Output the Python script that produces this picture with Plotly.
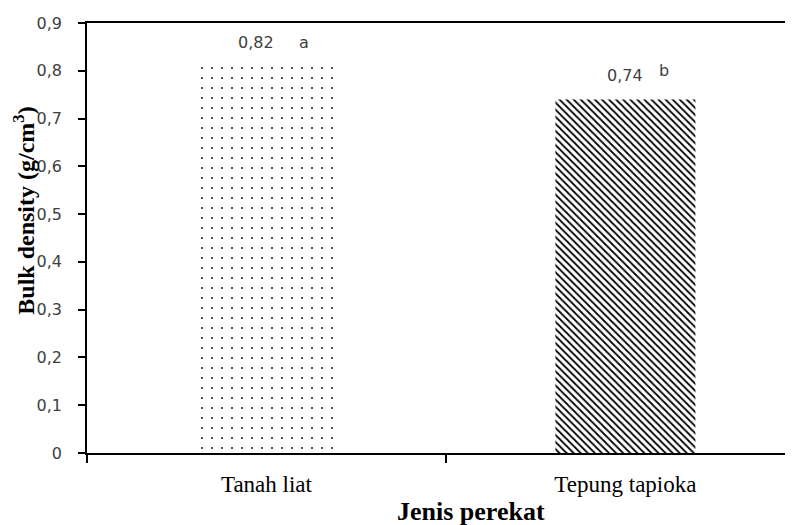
import plotly.graph_objects as go

categories = ["Tanah liat", "Tepung tapioka"]
values = [0.82, 0.74]
value_labels = ["0,82", "0,74"]
letters = ["a", "b"]
y_ticks = [0, 0.1, 0.2, 0.3, 0.4, 0.5, 0.6, 0.7, 0.8, 0.9]
y_tick_text = ["0", "0,1", "0,2", "0,3", "0,4", "0,5", "0,6", "0,7", "0,8", "0,9"]

fig = go.Figure()
fig.add_trace(go.Bar(
    x=[categories[0]], y=[values[0]], width=0.39,
    marker=dict(color="white", line=dict(width=0),
                pattern=dict(shape=".", size=10, solidity=0.025,
                             fgcolor="black", bgcolor="white", fillmode="replace")),
    showlegend=False, hoverinfo="skip"))
fig.add_trace(go.Bar(
    x=[categories[1]], y=[values[1]], width=0.39,
    marker=dict(color="white", line=dict(width=0),
                pattern=dict(shape="\\", size=5, solidity=0.35,
                             fgcolor="black", bgcolor="white", fillmode="replace")),
    showlegend=False, hoverinfo="skip"))

label_font = dict(family="DejaVu Sans", size=16, color="#404040")
# value labels and significance letters
fig.add_annotation(x=categories[0], y=values[0], text=value_labels[0],
                   showarrow=False, yanchor="middle", yshift=19, xshift=-10, font=label_font)
fig.add_annotation(x=categories[0], y=values[0], text=letters[0],
                   showarrow=False, yanchor="middle", yshift=19, xshift=38, font=label_font)
fig.add_annotation(x=categories[1], y=values[1], text=value_labels[1],
                   showarrow=False, yanchor="middle", yshift=24, xshift=0, font=label_font)
fig.add_annotation(x=categories[1], y=values[1], text=letters[1],
                   showarrow=False, yanchor="middle", yshift=29, xshift=39, font=label_font)

# y-axis title
fig.add_annotation(xref="paper", yref="paper", x=-0.0895, y=0.563,
                   text="Bulk density (g/cm<sup>3</sup>)", textangle=-90, showarrow=False,
                   xanchor="center", yanchor="middle",
                   font=dict(family="Liberation Serif", size=24, color="black", weight="bold"))
# x-axis title
fig.add_annotation(xref="paper", yref="paper", x=0.544, y=-0.135,
                   text="Jenis perekat", showarrow=False,
                   xanchor="center", yanchor="middle",
                   font=dict(family="Liberation Serif", size=26, color="black", weight="bold"))

fig.update_layout(
    width=785, height=517,
    margin=dict(l=79, r=0, t=15, b=72, autoexpand=False),
    plot_bgcolor="white", paper_bgcolor="white",
    xaxis=dict(
        type="category", range=[-0.5, 1.467], automargin=False,
        showline=True, linecolor="black", linewidth=1.5, mirror=True,
        ticks="outside", tickson="boundaries", ticklen=8, tickcolor="black", tickwidth=1.5,
        tickfont=dict(family="Liberation Serif", size=23, color="black"),
        ticklabelstandoff=10,
        showgrid=False, zeroline=False,
    ),
    yaxis=dict(
        range=[0, 0.9], tickvals=y_ticks, ticktext=y_tick_text, automargin=False,
        showline=True, linecolor="black", linewidth=1.5,
        ticks="outside", ticklen=7, tickcolor="black", tickwidth=1.5,
        tickfont=dict(family="DejaVu Sans", size=16, color="#404040"),
        ticklabelstandoff=13,
        showgrid=False, zeroline=False,
    ),
)

fig.write_html("out.html")
